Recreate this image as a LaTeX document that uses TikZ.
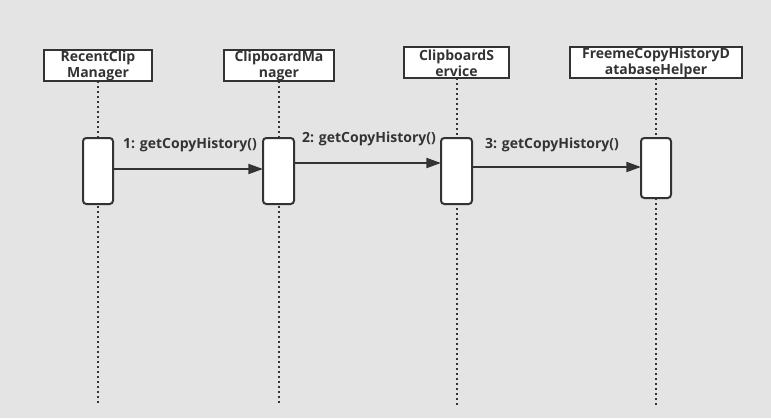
\documentclass[tikz,border=0pt]{standalone}
\usepackage{fontspec}
\setmainfont{Open Sans}
\usetikzlibrary{arrows.meta}
\definecolor{bg}{HTML}{E4E4E4}
\definecolor{ink}{HTML}{333333}
\begin{document}
\begin{tikzpicture}[x=0.75pt,y=-0.75pt,
  font=\fontsize{10.5}{12}\selectfont\bfseries,
  headbox/.style={draw=ink,line width=1.5pt,fill=white,inner sep=0pt,text=ink,align=center},
  actbox/.style={draw=ink,line width=1.5pt,fill=white,rounded corners=2.5pt},
  lifeline/.style={draw=ink,line width=1.5pt,dash pattern=on 1.5pt off 2.25pt},
  msg/.style={draw=ink,line width=1.5pt,-{Triangle[length=11pt,width=7.5pt]}},
  lbl/.style={text=ink,inner sep=0pt}]
\fill[bg] (0,0) rectangle (771,418);
\useasboundingbox (0,0) rectangle (771,418);
% header boxes
\draw[headbox] (44,50) rectangle (152,81);
\node[lbl,align=center] (h1) at (98,66) {RecentClip\\Manager};
\draw[headbox] (224,50) rectangle (334,81);
\node[lbl,align=center] (h2) at (279,66) {ClipboardMa\\nager};
\draw[headbox] (404,47) rectangle (509,78);
\node[lbl,align=center] (h3) at (456.5,63) {ClipboardS\\ervice};
\draw[headbox] (570,47) rectangle (742,78);
\node[lbl,align=center] (h4) at (656,63) {FreemeCopyHistoryD\\atabaseHelper};
% lifelines
\coordinate (l1t) at (98,81);  \coordinate (l1b) at (98,403);
\coordinate (l2t) at (279,81); \coordinate (l2b) at (279,403);
\coordinate (l3t) at (457,78); \coordinate (l3b) at (457,405);
\coordinate (l4t) at (656,78); \coordinate (l4b) at (656,405);
\draw[lifeline] (l1t) -- (l1b);
\draw[lifeline] (l2t) -- (l2b);
\draw[lifeline] (l3t) -- (l3b);
\draw[lifeline] (l4t) -- (l4b);
% activations
\draw[actbox] (83,138) rectangle (113,204);
\draw[actbox] (263,138) rectangle (294,204);
\draw[actbox] (441,138) rectangle (472,204);
\draw[actbox] (641,138) rectangle (671,198);
% messages
\coordinate (m1s) at (113,169); \coordinate (m1e) at (263,169);
\coordinate (m2s) at (294,163); \coordinate (m2e) at (441,163);
\coordinate (m3s) at (472,167); \coordinate (m3e) at (641,167);
\draw[msg] (m1s) -- (m1e);
\draw[msg] (m2s) -- (m2e);
\draw[msg] (m3s) -- (m3e);
\node[lbl] (t1) at (190,145) {1: getCopyHistory()};
\node[lbl] (t2) at (369,139) {2: getCopyHistory()};
\node[lbl] (t3) at (552,145) {3: getCopyHistory()};
\end{tikzpicture}
\end{document}
